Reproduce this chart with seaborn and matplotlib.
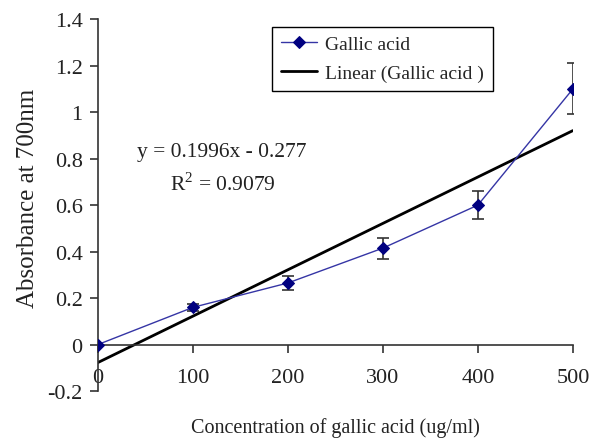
import matplotlib
matplotlib.use("Agg")
import matplotlib.pyplot as plt
import seaborn as sns
import numpy as np
import pandas as pd

concentration = [0, 100, 200, 300, 400, 500]
absorbance = [0.0, 0.16, 0.265, 0.415, 0.60, 1.10]
error = [0.0, 0.015, 0.03, 0.045, 0.06, 0.11]
slope = 0.1996
intercept = -0.277
x_ticks = [0, 100, 200, 300, 400, 500]
y_ticks = [-0.2, 0, 0.2, 0.4, 0.6, 0.8, 1, 1.2, 1.4]
y_ticklabels = ["-0.2", "0", "0.2", "0.4", "0.6", "0.8", "1", "1.2", "1.4"]

sns.set_style("white")
plt.rcParams['font.family'] = ['Liberation Serif', 'DejaVu Serif']
plt.rcParams['mathtext.fontset'] = 'custom'
plt.rcParams['mathtext.rm'] = 'Liberation Serif'

df = pd.DataFrame({"conc": concentration, "abs": absorbance})
idx = np.arange(1, len(concentration) + 1)
df["fit"] = slope * idx + intercept

fig = plt.figure(figsize=(5.9, 4.39), dpi=100)
ax = fig.add_axes([0.166, 0.107, 0.805, 0.847])

ax.errorbar(concentration, absorbance, yerr=error, fmt='none', ecolor='#333333',
            elinewidth=1.2, capsize=4.5, capthick=1.2, zorder=2)
sns.lineplot(data=df, x="conc", y="abs", ax=ax, color='#3535a5', linewidth=1.0,
             marker='D', markersize=6, markerfacecolor='#000080', markeredgecolor='#000080',
             label='Gallic acid', zorder=3)
sns.lineplot(data=df, x="conc", y="fit", ax=ax, color='black', linewidth=2.0,
             label='Linear (Gallic acid )', zorder=2)

ax.set_xlim(0, 500)
ax.set_ylim(-0.2, 1.4)
ax.set_xticks(x_ticks)
ax.set_xticklabels([str(t) for t in x_ticks])
ax.set_yticks(y_ticks)
ax.set_yticklabels(y_ticklabels)

for s in ['top', 'right']:
    ax.spines[s].set_visible(False)
ax.spines['bottom'].set_position(('data', 0))
for s in ['left', 'bottom']:
    ax.spines[s].set_color('#333333')
    ax.spines[s].set_linewidth(1.2)
ax.tick_params(axis='both', direction='out', length=6, width=1.2, color='#333333',
               labelsize=16, labelcolor='#222222', bottom=True, left=True)
ax.tick_params(axis='x', pad=11)
ax.tick_params(axis='y', pad=5)

ax.set_xlabel("Concentration of gallic acid (ug/ml)", fontsize=14.5, color='#222222')
ax.set_ylabel("Absorbance at 700nm", fontsize=18, color='#222222')
ax.xaxis.set_label_coords(0.5, -0.07)
ax.yaxis.set_label_coords(-0.124, 0.52)

ax.text(0.082, 0.644, "y = 0.1996x - 0.277", transform=ax.transAxes, fontsize=15.5,
        ha='left', va='center', color='#222222')
ax.text(0.152, 0.557, "R$^2$ = 0.9079", transform=ax.transAxes, fontsize=15.5,
        ha='left', va='center', color='#222222')

leg = ax.legend(loc='upper left', bbox_to_anchor=(0.366, 0.98), fontsize=14,
                frameon=True, fancybox=False, edgecolor='black', framealpha=1,
                borderpad=0.45, handlelength=1.9, labelspacing=0.6, handletextpad=0.4,
                borderaxespad=0)
leg.get_frame().set_linewidth(1.0)

fig.savefig("out.png", dpi=100)
